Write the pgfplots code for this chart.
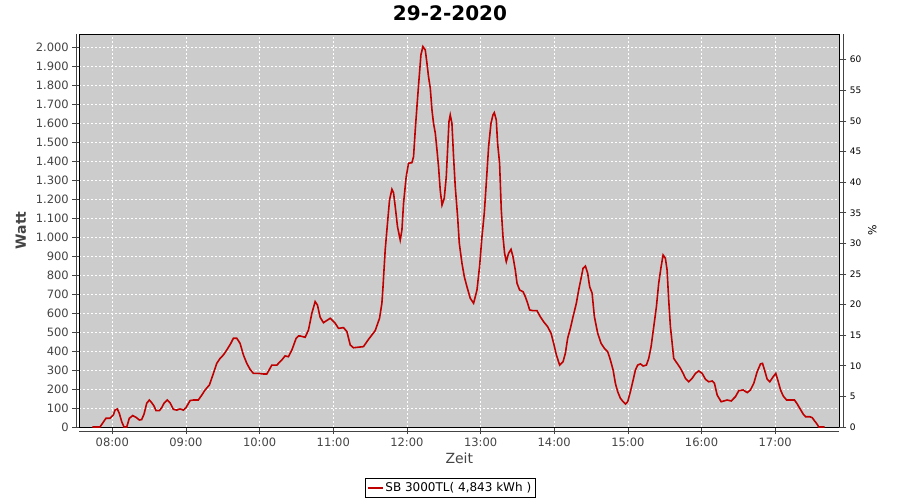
\documentclass[border=0pt]{standalone}
\usepackage{pgfplots}
\pgfplotsset{compat=1.18}
\usepackage{fontspec}
\setmainfont{DejaVu Sans}
\definecolor{bgc}{RGB}{204,204,204}
\definecolor{linec}{RGB}{190,0,0}
\definecolor{tickc}{RGB}{68,68,68}
\begin{document}
\begin{tikzpicture}[x=1pt,y=1pt]
\useasboundingbox (0,0) rectangle (900,-500);
\node[font=\bfseries\fontsize{20}{23}\selectfont] at (450,-13) {29-2-2020};
\begin{axis}[
  at={(79.3pt,-427pt)}, anchor=south west,
  scale only axis, width=760pt, height=393pt,
  xmin=7.552, xmax=17.870, ymin=0, ymax=2068,
  axis background/.style={fill=bgc},
  axis line style={black, line width=0.8pt},
  xtick={8,9,...,17},
  xticklabels={08:00,09:00,10:00,11:00,12:00,13:00,14:00,15:00,16:00,17:00},
  ytick={0,100,...,2000},
  /pgf/number format/.cd, 1000 sep={.}, assume math mode=true, /pgfplots/.cd,
  tick align=outside, major tick length=7pt,
  xtick pos=bottom, ytick pos=left,
  tick style={tickc, line width=0.6pt},
  ticklabel style={font=\fontsize{11.5}{13}\selectfont, text=tickc},
  grid=major,
  major grid style={white, line width=0.8pt, dash pattern=on 2pt off 2pt},
  xlabel={Zeit}, ylabel={Watt},
  ylabel shift=3pt,
  xlabel style={font=\fontsize{14}{16}\selectfont, text=tickc},
  ylabel style={font=\bfseries\fontsize{14}{16}\selectfont, text=tickc},
  legend style={at={(0.4878,-0.155)}, anchor=center, draw=black, line width=0.6pt,
    font=\fontsize{12}{14}\selectfont, inner xsep=2pt, inner ysep=2pt, row sep=0pt},
  legend cell align=left,
  legend image code/.code={\draw[#1, line width=1.6pt] (0pt,0pt) -- (15pt,0pt);},
]
\addplot[linec, line width=1.6pt] table {
x y
7.728 0
7.833 0
7.914 46
7.969 46
8.014 63
8.037 89
8.068 95
8.095 72
8.128 28
8.159 0
8.196 0
8.231 46
8.277 60
8.322 51
8.367 37
8.399 39
8.431 68
8.467 125
8.503 142
8.535 128
8.567 110
8.594 86
8.639 86
8.671 102
8.702 125
8.747 142
8.784 128
8.829 93
8.875 89
8.920 95
8.965 89
9.001 102
9.056 139
9.101 142
9.168 142
9.215 168
9.260 195
9.318 221
9.372 281
9.418 335
9.463 361
9.508 379
9.554 405
9.609 440
9.644 467
9.690 467
9.735 440
9.780 379
9.826 335
9.871 303
9.916 282
9.984 282
10.052 279
10.098 279
10.166 326
10.234 326
10.302 353
10.346 374
10.391 370
10.438 405
10.496 467
10.527 479
10.550 479
10.618 472
10.663 510
10.709 598
10.754 660
10.785 642
10.822 577
10.867 549
10.958 572
11.026 546
11.071 519
11.139 523
11.185 502
11.230 432
11.274 417
11.410 423
11.478 461
11.569 507
11.628 572
11.660 651
11.674 730
11.705 932
11.736 1072
11.764 1195
11.796 1251
11.818 1233
11.841 1160
11.872 1054
11.909 984
11.932 1037
11.954 1177
11.990 1317
12.022 1388
12.068 1391
12.090 1423
12.113 1563
12.136 1686
12.158 1800
12.190 1958
12.217 2002
12.249 1984
12.272 1914
12.293 1844
12.317 1783
12.340 1668
12.361 1598
12.385 1546
12.408 1458
12.429 1370
12.452 1247
12.476 1168
12.507 1204
12.534 1317
12.552 1458
12.571 1607
12.588 1642
12.611 1598
12.633 1423
12.656 1265
12.688 1107
12.711 967
12.747 862
12.779 791
12.815 738
12.860 677
12.905 651
12.951 721
12.986 844
13.019 1002
13.050 1125
13.077 1282
13.109 1475
13.141 1598
13.168 1642
13.186 1654
13.213 1616
13.231 1493
13.258 1388
13.281 1142
13.304 1002
13.326 914
13.349 870
13.380 914
13.413 935
13.440 896
13.471 826
13.495 756
13.530 721
13.576 712
13.607 686
13.639 651
13.666 616
13.712 612
13.766 612
13.811 580
13.856 554
13.910 528
13.957 493
13.992 440
14.029 379
14.073 326
14.120 344
14.151 388
14.182 467
14.219 519
14.255 580
14.300 651
14.332 721
14.364 782
14.391 835
14.423 847
14.454 809
14.481 738
14.514 704
14.545 580
14.590 493
14.636 440
14.681 414
14.726 396
14.762 353
14.799 300
14.830 230
14.861 186
14.898 151
14.935 133
14.966 121
14.997 133
15.034 186
15.071 247
15.102 300
15.133 326
15.170 332
15.207 321
15.251 326
15.283 361
15.315 423
15.351 528
15.387 633
15.418 756
15.451 844
15.478 905
15.509 888
15.532 826
15.554 668
15.577 528
15.601 440
15.622 361
15.668 335
15.713 309
15.750 282
15.781 256
15.826 238
15.872 256
15.917 282
15.962 295
16.008 282
16.053 251
16.098 238
16.144 242
16.175 230
16.212 168
16.266 133
16.348 142
16.402 137
16.461 160
16.505 191
16.565 195
16.620 181
16.664 195
16.709 230
16.755 291
16.800 332
16.827 335
16.855 300
16.891 251
16.927 238
16.973 265
17.008 282
17.035 247
17.072 195
17.109 163
17.154 142
17.262 142
17.299 121
17.334 98
17.380 68
17.412 54
17.470 54
17.503 49
17.534 32
17.561 19
17.592 0
17.670 0
};
\addlegendentry{SB 3000TL( 4,843 kWh )}
\end{axis}
\begin{axis}[
  at={(79.3pt,-427pt)}, anchor=south west,
  scale only axis, width=760pt, height=393pt,
  xmin=7.552, xmax=17.870, ymin=0, ymax=64.2,
  axis x line=none, axis y line*=right,
  axis line style={black, line width=0.8pt, -},
  ytick={0,5,...,60},
  /pgf/number format/assume math mode=true,
  tick align=outside, major tick length=7pt,
  tick style={tickc, line width=0.6pt},
  yticklabel style={font=\fontsize{9}{11}\selectfont, text=black},
  ylabel={\%},
  ylabel style={font=\fontsize{11}{13}\selectfont, rotate=0},
]
\addplot[draw=none] coordinates {(8,0)};
\end{axis}
\draw[tickc, line width=0.8pt] (76,-34) -- (76,-427.3);
\draw[tickc, line width=0.8pt] (79.3,-431) -- (839.3,-431);
\draw[tickc, line width=0.8pt] (843,-34) -- (843,-427.3);
\end{tikzpicture}
\end{document}
